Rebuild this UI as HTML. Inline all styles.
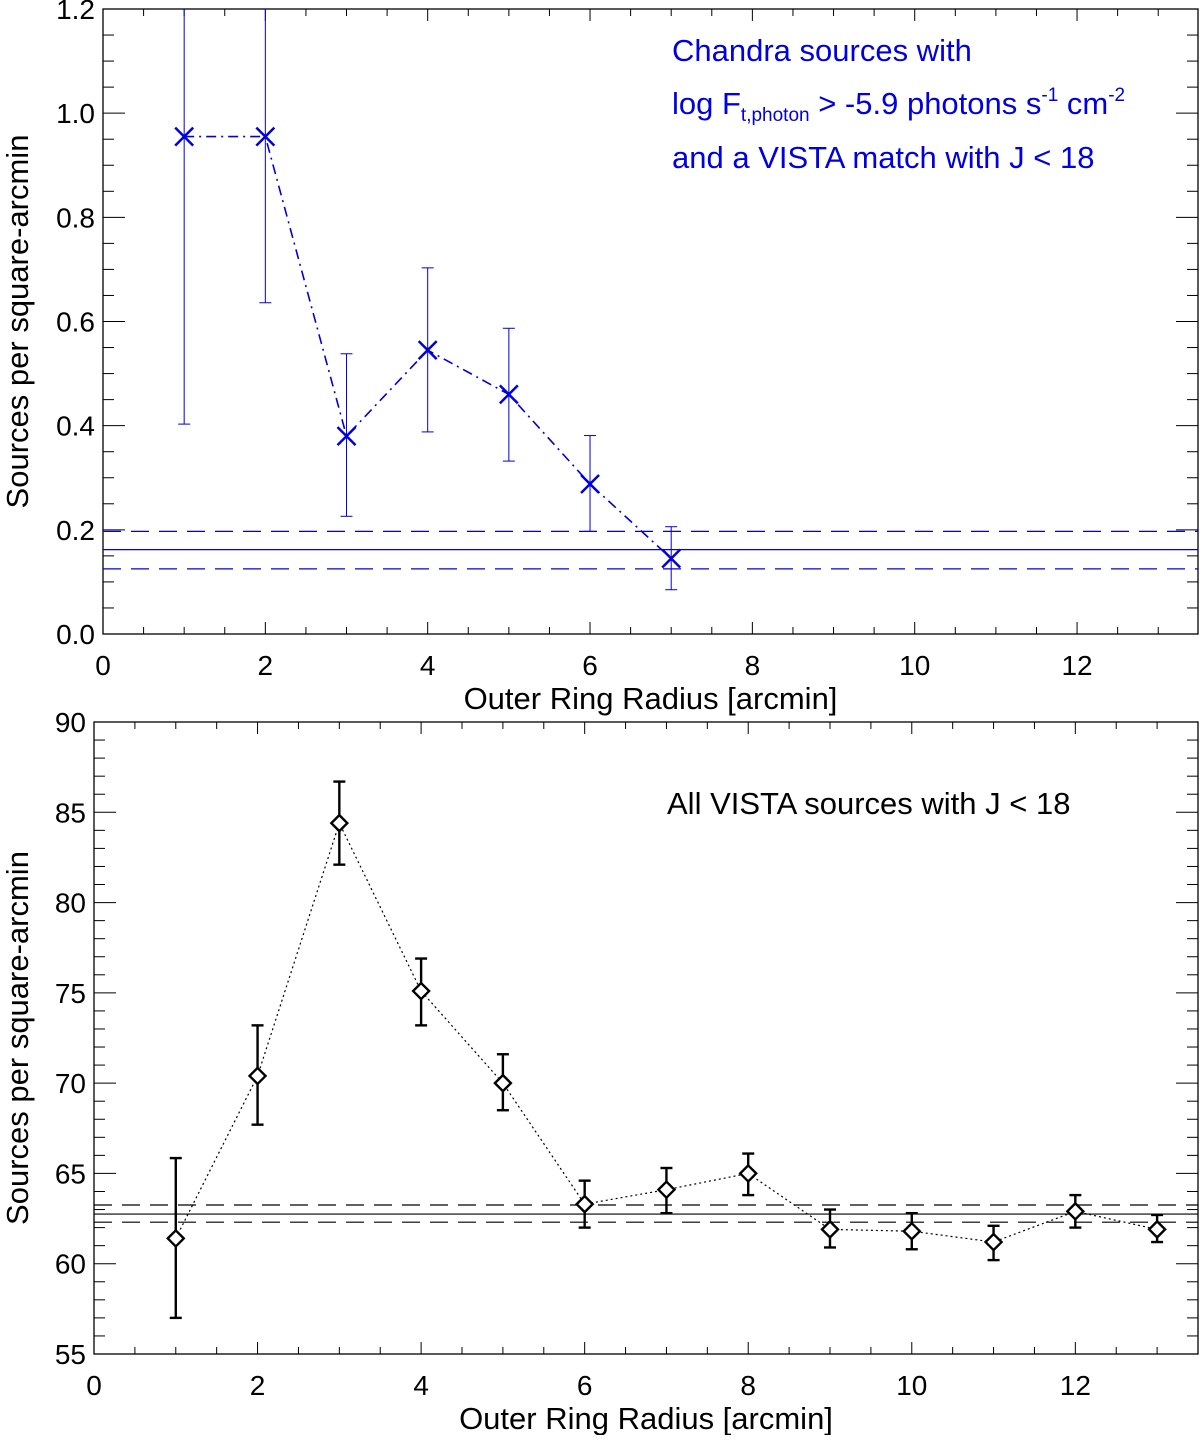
<!DOCTYPE html>
<html><head><meta charset="utf-8"><style>
body{margin:0;background:#fff}
svg text{font-family:"Liberation Sans",Arial,sans-serif}
</style></head><body>
<svg id="s" width="1200" height="1435" xmlns="http://www.w3.org/2000/svg"></svg>
<script>
const topX=[1,2,3,4,5,6,7];
const topY=[0.955,0.955,0.38,0.545,0.46,0.288,0.145];
const topLo=[0.403,0.636,0.226,0.388,0.332,0.197,0.085];
const topHi=[1.51,1.27,0.538,0.703,0.587,0.381,0.206];
const topRef=[0.162,0.197,0.125];
const topYTicks=["0.0","0.2","0.4","0.6","0.8","1.0","1.2"];
const botX=[1,2,3,4,5,6,7,8,9,10,11,12,13];
const botY=[61.4,70.4,84.4,75.1,70.0,63.3,64.1,65.0,61.9,61.8,61.2,62.9,61.9];
const botLo=[57.0,67.7,82.1,73.2,68.5,62.0,62.8,63.8,60.9,60.8,60.2,62.0,61.2];
const botHi=[65.85,73.2,86.7,76.9,71.6,64.6,65.3,66.1,63.0,62.8,62.1,63.8,62.7];
const botRef=[62.75,63.25,62.3];
const botYTicks=[55,60,65,70,75,80,85,90];
const xTicks=[0,2,4,6,8,10,12];

const S=document.getElementById('s');const NS='http://www.w3.org/2000/svg';
function mk(t,a,p){const e=document.createElementNS(NS,t);for(const k in a)e.setAttribute(k,a[k]);(p||S).appendChild(e);return e;}

function panel(cfg){
  const g=mk('g',{});
  
  
  const {L,R,T,B,x0,x1,y0,y1}=cfg;
  const X=v=>L+(v-x0)/(x1-x0)*(R-L);
  const Y=v=>B-(v-y0)/(y1-y0)*(B-T);
  const cid='c'+cfg.name;
  const cp=mk('clipPath',{id:cid},g);mk('rect',{x:L,y:T,width:R-L,height:B-T},cp);
  const fr=mk('rect',{x:L,y:T,width:R-L,height:B-T,fill:'none',stroke:'#000','stroke-width':1.3},g);
  
  for(let v=0;v<=x1+1e-9;v+=0.5){const maj=Math.abs(v/2-Math.round(v/2))<1e-6;const len=maj?12:7;
    mk('line',{x1:X(v),x2:X(v),y1:B,y2:B-len,stroke:'#000','stroke-width':1},g);
    mk('line',{x1:X(v),x2:X(v),y1:T,y2:T+len,stroke:'#000','stroke-width':1},g);}
  xTicks.forEach(v=>{const t=mk('text',{x:X(v),y:B+41,'font-size':28,'text-anchor':'middle'},g);t.textContent=v;
    });
  for(let v=y0;v<=y1+1e-9;v+=cfg.ymin){const maj=Math.abs(((v-y0)/cfg.ymaj)-Math.round((v-y0)/cfg.ymaj))<1e-6;const len=maj?22:11;
    mk('line',{x1:L,x2:L+len,y1:Y(v),y2:Y(v),stroke:'#000','stroke-width':1},g);
    mk('line',{x1:R,x2:R-len,y1:Y(v),y2:Y(v),stroke:'#000','stroke-width':1},g);}
  cfg.yt.forEach(v=>{const t=mk('text',{x:L-8,y:Y(+v)+10,'font-size':28,'text-anchor':'end'},g);t.textContent=v;
    });
  const xt=mk('text',{x:(L+R)/2,y:B+75,'font-size':31,'text-anchor':'middle'},g);xt.textContent='Outer Ring Radius [arcmin]';
  
  const yt=mk('text',{x:0,y:0,'font-size':31,'text-anchor':'middle',transform:`translate(28,${(T+B)/2}) rotate(-90)`},g);yt.textContent='Sources per square-arcmin';
  
  const d=mk('g',{'clip-path':`url(#${cid})`},g);
  const col=cfg.col;
  cfg.ref.forEach((v,i)=>{const l=mk('line',{x1:L,x2:R,y1:Y(v),y2:Y(v),stroke:col,'stroke-width':1.2,'stroke-dasharray':i?'18,10':''},d);
    });
  const pts=cfg.xs.map((x,i)=>X(x)+','+Y(cfg.ys[i])).join(' ');
  const pl=mk('polyline',{points:pts,fill:'none',stroke:col,'stroke-width':cfg.lw,'stroke-dasharray':cfg.dash},d);
  
  cfg.xs.forEach((x,i)=>{const px=X(x),py=Y(cfg.ys[i]);
    const eb=mk('g',{stroke:col,'stroke-width':cfg.ew},d);
    
    mk('line',{x1:px,x2:px,y1:Y(cfg.lo[i]),y2:Y(cfg.hi[i])},eb);
    mk('line',{x1:px-6,x2:px+6,y1:Y(cfg.lo[i]),y2:Y(cfg.lo[i])},eb);
    mk('line',{x1:px-6,x2:px+6,y1:Y(cfg.hi[i]),y2:Y(cfg.hi[i])},eb);
    let m;
    if(cfg.marker==='x'){m=mk('path',{d:`M${px-9},${py-9}L${px+9},${py+9}M${px-9},${py+9}L${px+9},${py-9}`,stroke:col,'stroke-width':2.5,fill:'none'},d);}
    else{m=mk('path',{d:`M${px},${py-8}L${px+8},${py}L${px},${py+8}L${px-8},${py}Z`,stroke:col,'stroke-width':2.4,fill:'#fff'},d);}
    
  });
}
panel({name:'top-panel',L:103,R:1198,T:9,B:634,x0:0,x1:13.49,y0:0,y1:1.2,ymaj:0.2,ymin:0.05,yt:topYTicks,
  xs:topX,ys:topY,lo:topLo,hi:topHi,ref:topRef,col:'#0000e0',lw:1.6,dash:'10,5,2,5',ew:1,marker:'x'});
panel({name:'bottom-panel',L:94,R:1198,T:722,B:1354,x0:0,x1:13.5,y0:55,y1:90,ymaj:5,ymin:1,yt:botYTicks,
  xs:botX,ys:botY,lo:botLo,hi:botHi,ref:botRef,col:'#000',lw:1.2,dash:'2,3',ew:2.4,marker:'d'});
</script>
<svg style="position:absolute;left:0;top:0" width="1200" height="1435">
<g fill="#0000e0" font-size="31" font-family="Liberation Sans, Arial, sans-serif">
<text x="672" y="61">Chandra sources with</text>
<text x="672" y="114">log F<tspan font-size="19" dy="7">t,photon</tspan><tspan dy="-7"> &gt; -5.9 photons s</tspan><tspan font-size="19" dy="-13">-1</tspan><tspan dy="13"> cm</tspan><tspan font-size="19" dy="-13">-2</tspan></text>
<text x="672" y="168">and a VISTA match with J &lt; 18</text>
</g>
<text x="667" y="814" font-size="31" font-family="Liberation Sans, Arial, sans-serif">All VISTA sources with J &lt; 18</text>
</svg>
</body></html>
